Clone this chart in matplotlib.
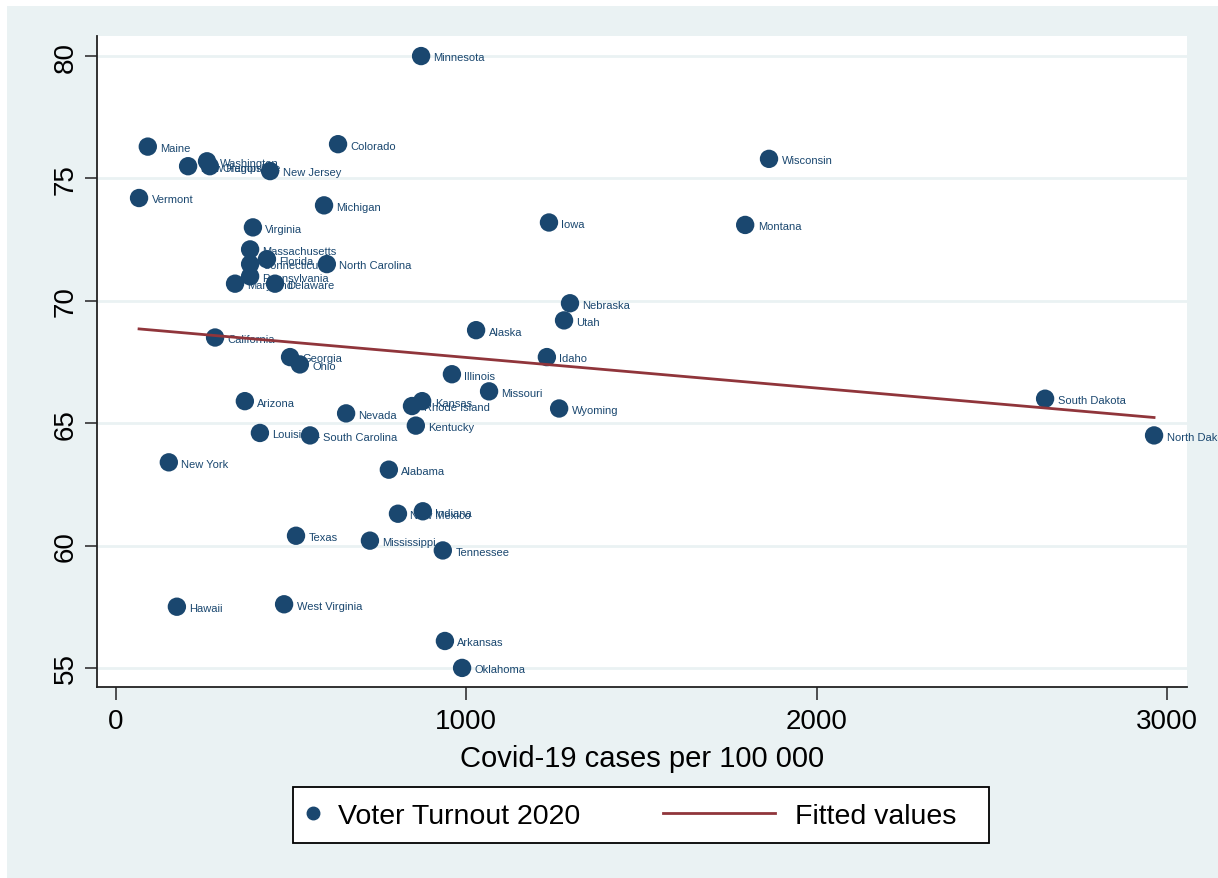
import numpy as np
import matplotlib
matplotlib.use("Agg")
import matplotlib.pyplot as plt
from matplotlib.lines import Line2D
from matplotlib.patches import Rectangle

plt.rcParams['font.family'] = ['Liberation Sans', 'DejaVu Sans']

states = ["Minnesota", "Maine", "Colorado", "Washington", "New Hampshire", "Oregon",
          "New Jersey", "Wisconsin", "Vermont", "Michigan", "Iowa", "Montana",
          "Virginia", "Massachusetts", "Florida", "Connecticut", "North Carolina",
          "Pennsylvania", "Maryland", "Delaware", "Nebraska", "Utah", "Alaska",
          "California", "Idaho", "Georgia", "Ohio", "Illinois", "Missouri",
          "South Dakota", "Arizona", "Kansas", "Rhode Island", "Wyoming", "Nevada",
          "Kentucky", "Louisiana", "South Carolina", "North Dakota", "New York",
          "Alabama", "Indiana", "New Mexico", "Texas", "Mississippi", "Tennessee",
          "Hawaii", "West Virginia", "Arkansas", "Oklahoma"]

covid_cases = [871, 91, 634, 260, 206, 268,
               440, 1864, 66, 594, 1236, 1796,
               391, 383, 431, 383, 602,
               383, 340, 454, 1296, 1279, 1028,
               283, 1230, 497, 525, 959, 1065,
               2652, 368, 874, 845, 1265, 657,
               856, 411, 554, 2963, 151,
               779, 876, 805, 514, 725, 933,
               174, 480, 939, 988]

turnout = [80.0, 76.3, 76.4, 75.7, 75.5, 75.5,
           75.3, 75.8, 74.2, 73.9, 73.2, 73.1,
           73.0, 72.1, 71.7, 71.5, 71.5,
           71.0, 70.7, 70.7, 69.9, 69.2, 68.8,
           68.5, 67.7, 67.7, 67.4, 67.0, 66.3,
           66.0, 65.9, 65.9, 65.7, 65.6, 65.4,
           64.9, 64.6, 64.5, 64.5, 63.4,
           63.1, 61.4, 61.3, 60.4, 60.2, 59.8,
           57.5, 57.6, 56.1, 55.0]

x_ticks = [0, 1000, 2000, 3000]
y_ticks = [55, 60, 65, 70, 75, 80]
x_title = "Covid-19 cases per 100 000"
legend_labels = ["Voter Turnout 2020", "Fitted values"]

NAVY = "#1a476f"
MAROON = "#90353b"
BG = "#eaf2f3"

W, H = 1218, 879
fig = plt.figure(figsize=(W / 100, H / 100), dpi=100, facecolor="white")
fig.patches.append(Rectangle((7 / W, 0), 1 - 7 / W, 1 - 7 / H, transform=fig.transFigure,
                             facecolor=BG, edgecolor="none", zorder=-10))

ax = fig.add_axes([97 / W, 1 - 688 / H, (1187 - 97) / W, (688 - 37) / H])
ax.set_facecolor("white")

x = np.array(covid_cases, dtype=float)
y = np.array(turnout, dtype=float)

ax.scatter(x, y, s=175, color=NAVY, edgecolors="none", zorder=3)
for name, xi, yi in zip(states, x, y):
    ax.annotate(name, (xi, yi), xytext=(9, -1), textcoords="offset points",
                va="center", ha="left", fontsize=8, color=NAVY, zorder=2)

slope, intercept = np.polyfit(x, y, 1)
xf = np.array([x.min(), x.max()])
ax.plot(xf, intercept + slope * xf, color=MAROON, lw=2, zorder=4)

ax.set_xlim(-54, 3057)
ax.set_ylim(54.22, 80.82)
ax.set_xticks(x_ticks)
ax.set_yticks(y_ticks)
ax.tick_params(axis="both", labelsize=20, length=9, width=1.2, color="#333333")
ax.tick_params(axis="x", pad=6)
ax.tick_params(axis="y", pad=4)
for lab in ax.get_yticklabels():
    lab.set_rotation(90)
    lab.set_va("center")
ax.grid(axis="y", color=BG, lw=2)
ax.set_axisbelow(True)
for s in ["top", "right"]:
    ax.spines[s].set_visible(False)
for s in ["left", "bottom"]:
    ax.spines[s].set_linewidth(1.3)
    ax.spines[s].set_color("#222222")
ax.set_xlabel(x_title, fontsize=21, labelpad=7)

# legend frame
fig.patches.append(Rectangle((293 / W, 1 - 844 / H), (989 - 293) / W, (844 - 788) / H,
                             transform=fig.transFigure, facecolor="white",
                             edgecolor="black", lw=1.3, zorder=1))
h1 = Line2D([], [], marker="o", ls="none", color=NAVY, markersize=9)
h2 = Line2D([], [], color=MAROON, lw=2)
leg1 = fig.legend([h1], [legend_labels[0]], loc="center left",
                  bbox_to_anchor=(300 / W, 1 - 817 / H), frameon=False, fontsize=20.5,
                  handlelength=0.93, handletextpad=0.42, borderpad=0, borderaxespad=0)
leg2 = fig.legend([h2], [legend_labels[1]], loc="center left",
                  bbox_to_anchor=(663 / W, 1 - 817 / H), frameon=False, fontsize=20.5,
                  handlelength=3.93, handletextpad=0.7, borderpad=0, borderaxespad=0)
leg1.set_zorder(5)
leg2.set_zorder(5)

fig.savefig("out.png", dpi=100, facecolor="white")
